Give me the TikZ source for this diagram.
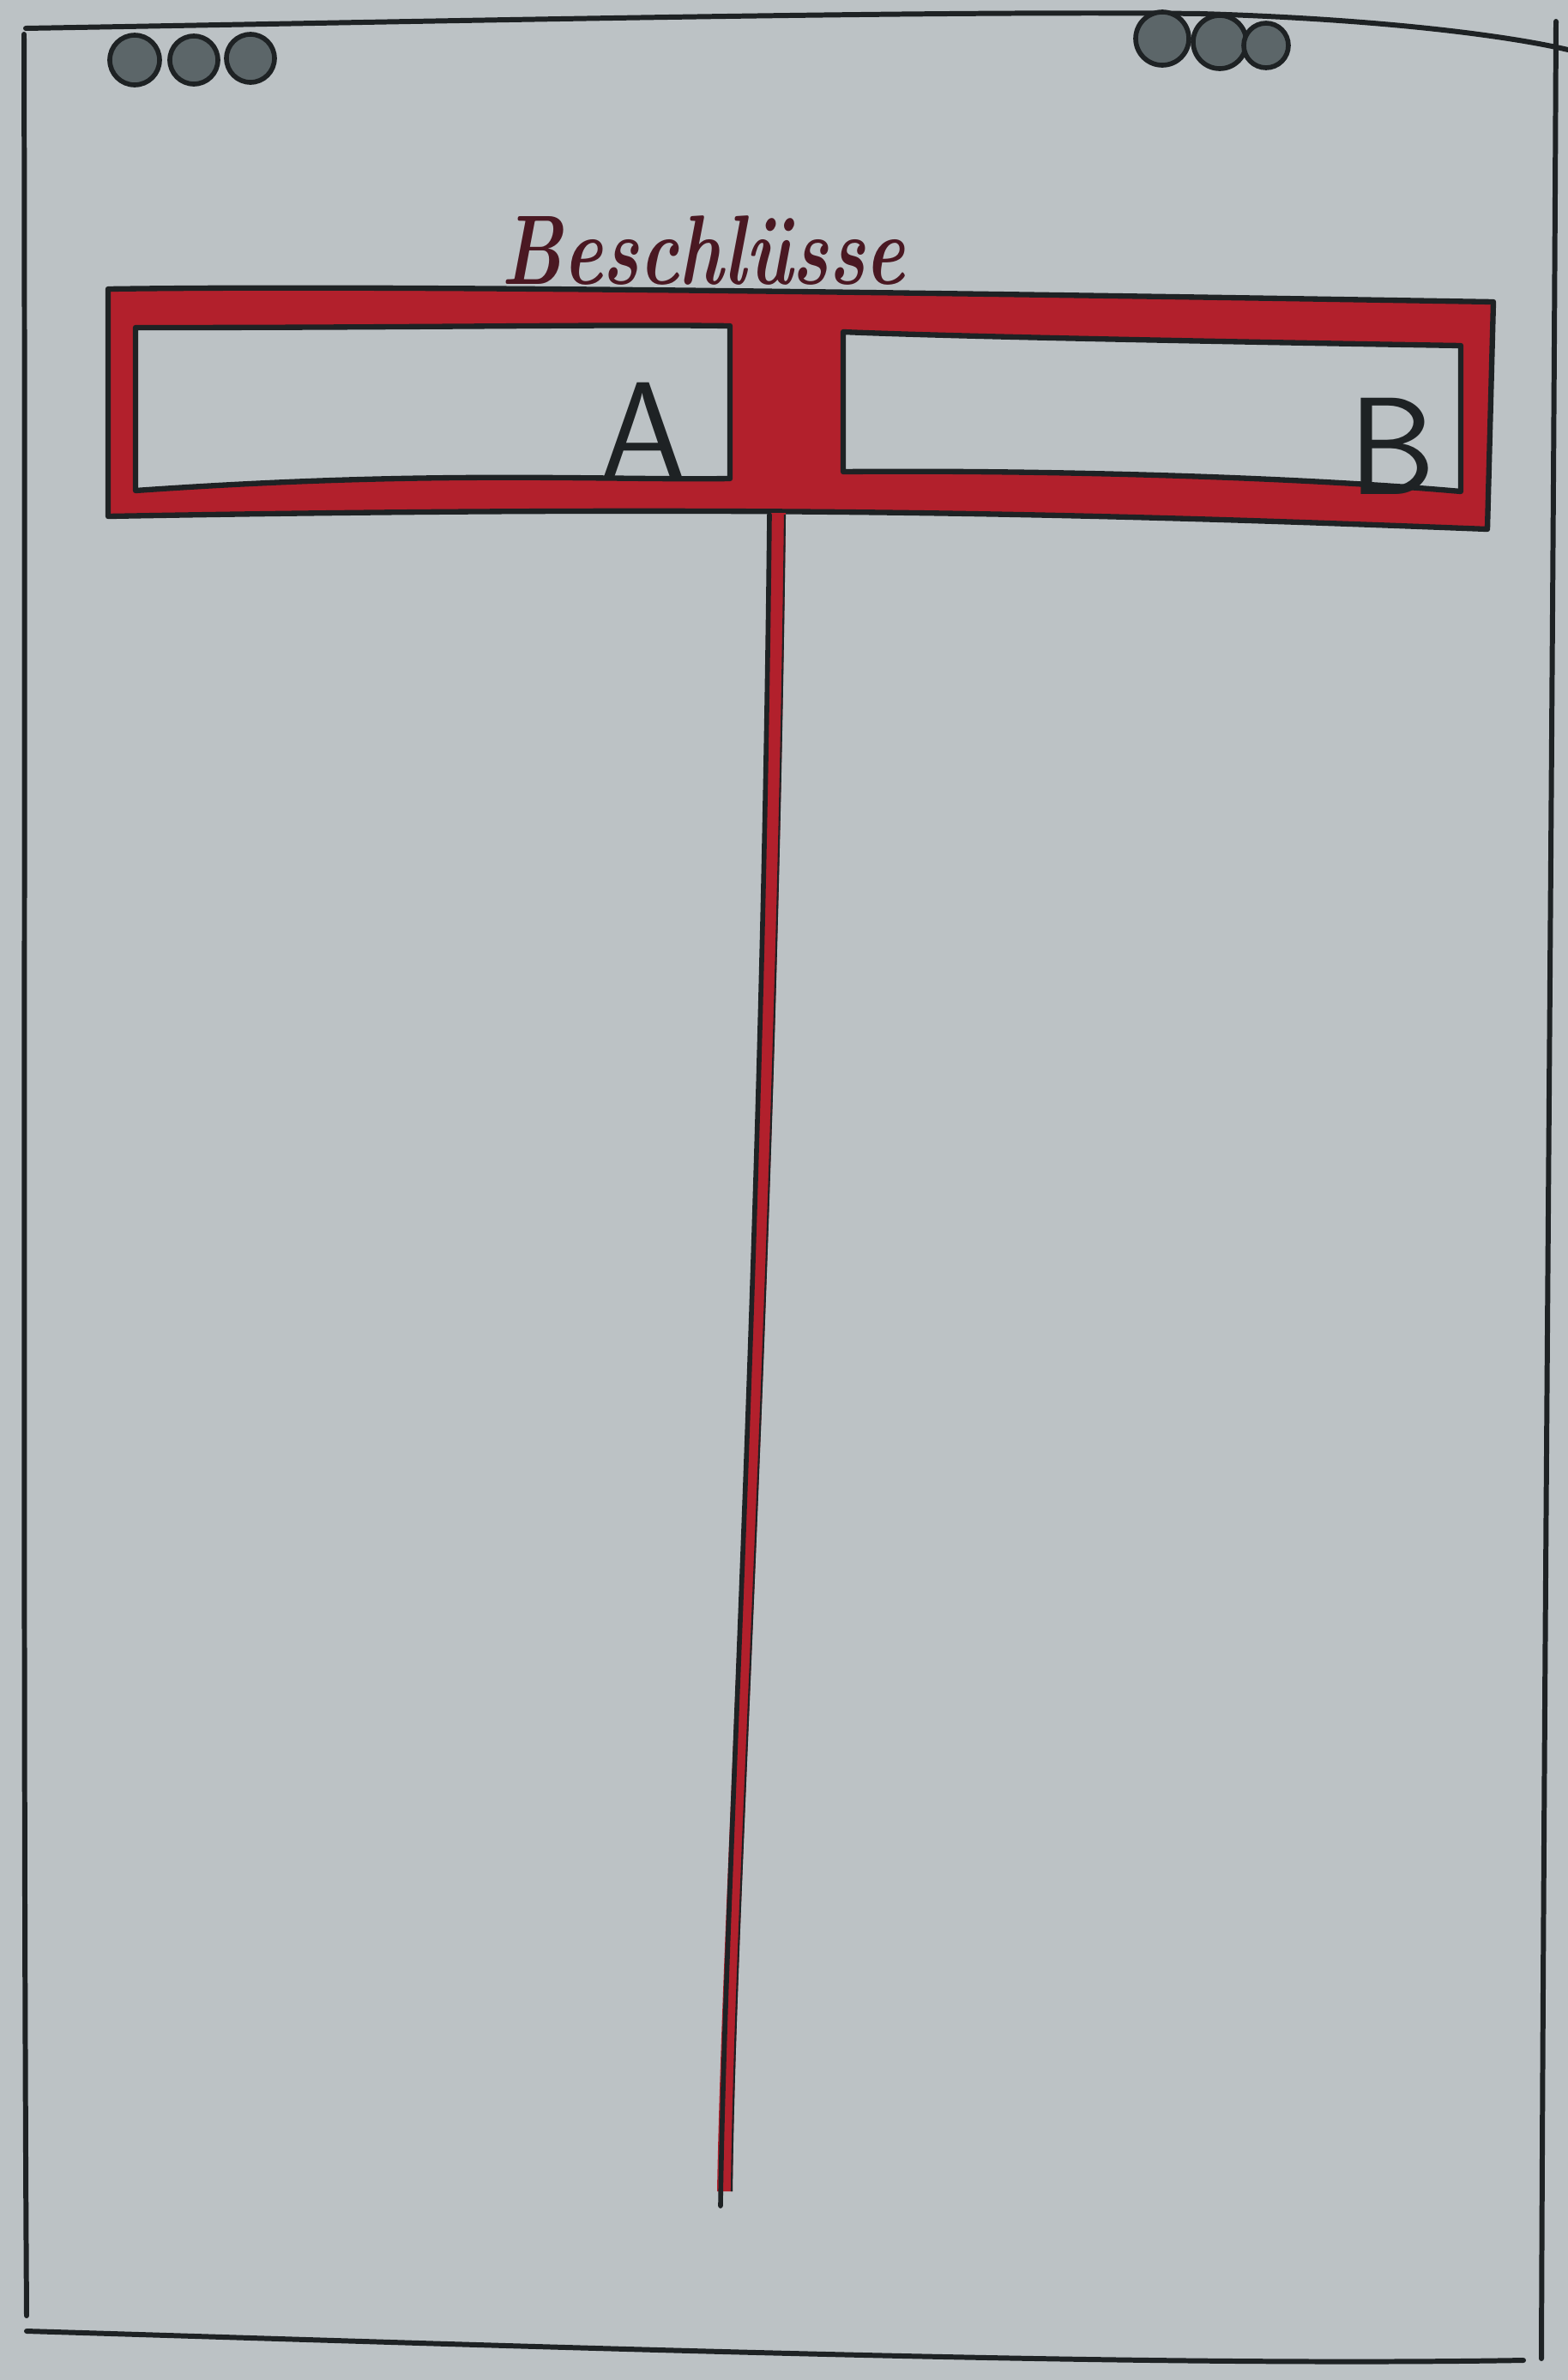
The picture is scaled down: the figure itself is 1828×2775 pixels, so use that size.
\documentclass[tikz,border=0pt]{standalone}
\usepackage{graphicx}
\definecolor{paper}{HTML}{BCC2C5}
\definecolor{ink}{HTML}{1E2224}
\definecolor{redink}{HTML}{B2202C}
\definecolor{maroon}{HTML}{4A1822}
\definecolor{dotfill}{HTML}{5C6669}
\tikzset{
  frameline/.style={draw=ink, line width=1.7pt, line cap=round, line join=round},
  bandedge/.style={draw=ink, line width=1.8pt, line join=round},
  dotstyle/.style={draw=ink, line width=1.6pt, fill=dotfill},
  letter/.style={font=\sffamily\fontsize{46}{50}\selectfont, text=ink, inner sep=0pt}
}
\begin{document}
\begin{tikzpicture}[x=0.01cm,y=-0.01cm]
\useasboundingbox (0,0) rectangle (1828,2775);
\fill[paper] (0,0) rectangle (1828,2775);
% outer frame
\draw[frameline] (30,33) .. controls (500,25) and (1100,12) .. (1400,16) .. controls (1600,22) and (1750,40) .. (1828,58);
\draw[frameline] (28,40) .. controls (30,900) and (26,1900) .. (31,2700);
\draw[frameline] (31,2718) .. controls (600,2735) and (1300,2760) .. (1776,2752);
\draw[frameline] (1814,25) .. controls (1810,900) and (1800,1900) .. (1797,2750);
% dots
\draw[dotstyle] (157,70) circle (29);
\draw[dotstyle] (226,70) circle (28);
\draw[dotstyle] (292,68) circle (28);
\draw[dotstyle] (1355,45) circle (31);
\draw[dotstyle] (1422,49) circle (31);
\draw[dotstyle] (1476,53) circle (26);
% title
\node[text=maroon, inner sep=0pt] (title) at (820,292) {\resizebox{4.7cm}{0.8cm}{\bfseries\itshape Beschl\"usse}};
% red band (outer minus two inner boxes)
\path[fill=redink, even odd rule]
  (126,337) .. controls (400,333) and (900,338) .. (1741,352) -- (1734,617) .. controls (1300,600) and (900,588) .. (126,602) -- cycle
  (158,382) .. controls (500,382) and (700,378) .. (851,380) -- (851,558) .. controls (700,560) and (500,548) .. (158,572) -- cycle
  (983,387) .. controls (1100,392) and (1400,398) .. (1703,403) -- (1703,573) .. controls (1500,555) and (1200,548) .. (983,550) -- cycle;
\draw[bandedge] (126,337) .. controls (400,333) and (900,338) .. (1741,352) -- (1734,617) .. controls (1300,600) and (900,588) .. (126,602) -- cycle;
\draw[bandedge] (158,382) .. controls (500,382) and (700,378) .. (851,380) -- (851,558) .. controls (700,560) and (500,548) .. (158,572) -- cycle;
\draw[bandedge] (983,387) .. controls (1100,392) and (1400,398) .. (1703,403) -- (1703,573) .. controls (1500,555) and (1200,548) .. (983,550) -- cycle;
% stem
\fill[redink] (895,598) -- (916,598) .. controls (905,1500) and (858,2200) .. (854,2555) -- (836,2555) .. controls (842,2200) and (888,1500) .. (895,598) -- cycle;
\draw[draw=ink, line width=1.6pt, line cap=round] (897,600) .. controls (888,1500) and (845,2200) .. (840,2572);
\draw[draw=ink, line width=0.6pt] (915,600) .. controls (904,1500) and (857,2200) .. (853,2555);
% letters
\node[letter] (A) at (750,502) {A};
\node[letter] (B) at (1623,520) {B};
\end{tikzpicture}
\end{document}
